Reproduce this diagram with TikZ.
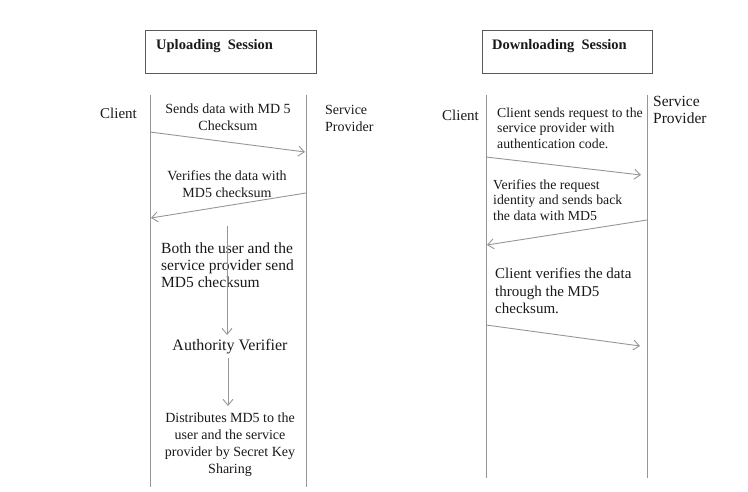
\documentclass[tikz,border=0pt]{standalone}
\usepackage{fontspec}
\setmainfont{Liberation Serif}
\usetikzlibrary{arrows.meta}
\definecolor{linegray}{RGB}{150,150,150}
\definecolor{boxgray}{RGB}{90,90,90}
\definecolor{txt}{RGB}{25,25,25}
\tikzset{
  lifeline/.style={draw=linegray, line width=0.9pt},
  msg/.style={draw=linegray, line width=0.9pt, -{Straight Barb[length=6pt,width=10pt,line width=0.9pt]}},
  titlebox/.style={draw=boxgray, line width=1.2pt},
  lbl/.style={inner sep=0pt, text=txt, font=\fontsize{14}{17}\selectfont},
  lbld/.style={inner sep=0pt, text=txt, font=\fontsize{13.8}{15.5}\selectfont},
  ttl/.style={inner sep=0pt, text=txt, font=\fontsize{14.5}{17}\selectfont\bfseries}
}
\begin{document}
\begin{tikzpicture}[x=1pt,y=-1pt]
\useasboundingbox (0,0) rectangle (748,492);
% title boxes
\node[titlebox, minimum width=171pt, minimum height=43pt, anchor=north west, inner sep=0pt] (ubox) at (145,30) {};
\node[ttl, anchor=west] (utitle) at (156,46) {Uploading\ \ Session};
\node[titlebox, minimum width=170pt, minimum height=43pt, anchor=north west, inner sep=0pt] (dbox) at (482,30) {};
\node[ttl, anchor=west] (dtitle) at (492,46) {Downloading\ \ Session};
% lifelines
\coordinate (ulT) at (150,95); \coordinate (ulB) at (150,487);
\coordinate (urT) at (306,95); \coordinate (urB) at (306,487);
\coordinate (dlT) at (486,95); \coordinate (dlB) at (486,478);
\coordinate (drT) at (647,95); \coordinate (drB) at (647,478);
\draw[lifeline] (ulT) -- (ulB);
\draw[lifeline] (urT) -- (urB);
\draw[lifeline] (dlT) -- (dlB);
\draw[lifeline] (drT) -- (drB);
% upload labels
\node[lbl, anchor=west, font=\fontsize{15}{17}\selectfont] (uclient) at (100,113) {Client};
\node[lbl, anchor=west, align=left] (uprov) at (325,118) {Service\\Provider};
\node[lbl, align=center] (usend) at (228,117) {Sends data with MD 5\\Checksum};
\node[lbl, align=center] (uverif) at (227,184) {Verifies the data with\\MD5 checksum};
\node[lbl, anchor=west, align=left, font=\fontsize{15.5}{17}\selectfont] (uboth) at (161,265) {Both the user and the\\service provider send\\MD5 checksum};
\node[lbl, font=\fontsize{16}{17}\selectfont] (uauth) at (230,347) {Authority Verifier};
\node[lbl, align=center] (udist) at (230,445) {Distributes MD5 to the\\user and the service\\provider by Secret Key\\Sharing};
% upload arrows
\coordinate (ua1s) at (150,132); \coordinate (ua1e) at (305,152);
\coordinate (ua2s) at (306,193); \coordinate (ua2e) at (151,218);
\coordinate (uv1s) at (227,226); \coordinate (uv1e) at (227,335);
\coordinate (uv2s) at (228,358); \coordinate (uv2e) at (228,406);
\draw[msg] (ua1s) -- (ua1e);
\draw[msg] (ua2s) -- (ua2e);
\draw[msg] (uv1s) -- (uv1e);
\draw[msg] (uv2s) -- (uv2e);
% download labels
\node[lbl, anchor=west, font=\fontsize{15}{17}\selectfont] (dclient) at (442,115) {Client};
\node[lbl, anchor=west, align=left, font=\fontsize{15.5}{16.5}\selectfont] (dprov) at (653,110) {Service\\Provider};
\node[lbld, anchor=west, align=left] (dsend) at (497,128) {Client sends request to the\\service provider with\\authentication code.};
\node[lbld, anchor=west, align=left] (dverif) at (493,200) {Verifies the request\\identity and sends back\\the data with MD5};
\node[lbl, anchor=west, align=left, font=\fontsize{15}{17.5}\selectfont] (dcheck) at (495,291) {Client verifies the data\\through the MD5\\checksum.};
% download arrows
\coordinate (da1s) at (486,157); \coordinate (da1e) at (641,175);
\coordinate (da2s) at (647,220); \coordinate (da2e) at (487,245);
\coordinate (da3s) at (486,325); \coordinate (da3e) at (640,346);
\draw[msg] (da1s) -- (da1e);
\draw[msg] (da2s) -- (da2e);
\draw[msg] (da3s) -- (da3e);
\end{tikzpicture}
\end{document}
